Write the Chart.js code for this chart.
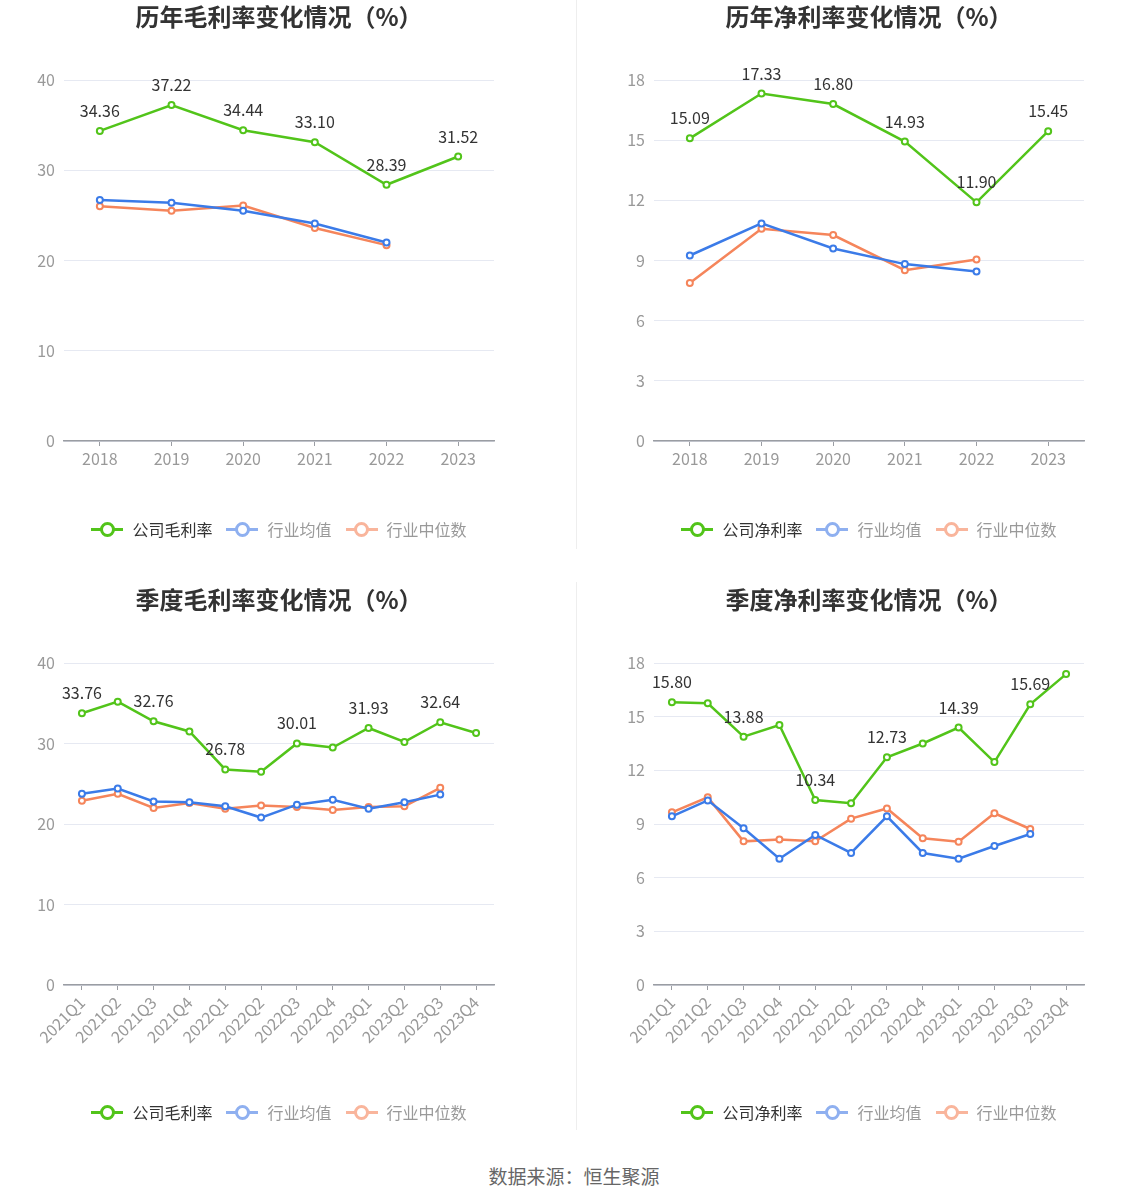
<!DOCTYPE html>
<html><head><meta charset="utf-8">
<script src="https://cdn.jsdelivr.net/npm/chart.js@4.4.0/dist/chart.umd.min.js"></script>
<style>
body{margin:0;background:#fff;width:1148px;height:1202px;position:relative;overflow:hidden;font-family:"Noto Sans CJK SC","Noto Sans",sans-serif;}
canvas{position:absolute;}
.title{position:absolute;width:574px;text-align:center;font-size:24px;line-height:30px;font-weight:bold;color:#333;}
.legend{position:absolute;width:574px;height:22px;display:flex;justify-content:center;align-items:center;font-size:16px;line-height:22px;}
.item{display:flex;align-items:center;margin:0 7px;}
.icon{position:relative;width:32px;height:16px;margin-right:9px;}
.icon .ln{position:absolute;left:0;right:0;top:6.5px;height:3px;}
.icon .dot{position:absolute;left:8.5px;top:0.5px;width:9px;height:9px;border:3px solid;border-radius:50%;background:#fff;box-sizing:content-box;}
.divider{position:absolute;left:576px;width:1px;background:#eee;}
.footer{position:absolute;left:0;width:1148px;top:1163px;text-align:center;font-size:19px;line-height:26px;color:#666;}
</style></head>
<body>
<div class="divider" style="top:0;height:549px"></div>
<div class="divider" style="top:582px;height:548px"></div>
<canvas id="c1" width="574" height="549" style="left:0;top:0;width:574px;height:549px"></canvas>
<canvas id="c2" width="574" height="549" style="left:574px;top:0;width:574px;height:549px"></canvas>
<canvas id="c3" width="574" height="556" style="left:0;top:574px;width:574px;height:556px"></canvas>
<canvas id="c4" width="574" height="556" style="left:574px;top:574px;width:574px;height:556px"></canvas>
<div class="title" style="left:-8px;top:1px">历年毛利率变化情况（%）</div>
<div class="title" style="left:582px;top:1px">历年净利率变化情况（%）</div>
<div class="title" style="left:-8px;top:584px">季度毛利率变化情况（%）</div>
<div class="title" style="left:582px;top:584px">季度净利率变化情况（%）</div>
<div id="lg1" class="legend" style="left:-8px;top:518px"></div>
<div id="lg2" class="legend" style="left:582px;top:518px"></div>
<div id="lg3" class="legend" style="left:-8px;top:1101px"></div>
<div id="lg4" class="legend" style="left:582px;top:1101px"></div>
<div class="footer">数据来源：恒生聚源</div>
<script>
const yearCats = ['2018','2019','2020','2021','2022','2023'];
const quarterCats = ['2021Q1','2021Q2','2021Q3','2021Q4','2022Q1','2022Q2','2022Q3','2022Q4','2023Q1','2023Q2','2023Q3','2023Q4'];

const annualGrossCompany = [34.36,37.22,34.44,33.10,28.39,31.52];
const annualGrossMean    = [26.7,26.4,25.5,24.1,22.0,null];
const annualGrossMedian  = [26.0,25.5,26.1,23.6,21.7,null];

const annualNetCompany = [15.09,17.33,16.80,14.93,11.90,15.45];
const annualNetMean    = [9.25,10.85,9.6,8.82,8.45,null];
const annualNetMedian  = [7.88,10.58,10.27,8.52,9.05,null];

const qGrossCompany = [33.76,35.2,32.76,31.5,26.78,26.5,30.01,29.5,31.93,30.2,32.64,31.3];
const qGrossMean    = [23.75,24.4,22.8,22.7,22.2,20.8,22.4,23.0,21.9,22.7,23.65,null];
const qGrossMedian  = [22.9,23.75,22.0,22.6,21.9,22.3,22.1,21.75,22.1,22.2,24.5,null];

const qNetCompany = [15.80,15.75,13.88,14.53,10.34,10.16,12.73,13.5,14.39,12.46,15.69,17.38];
const qNetMean    = [9.43,10.32,8.76,7.06,8.39,7.38,9.43,7.38,7.06,7.77,8.44,null];
const qNetMedian  = [9.65,10.49,8.03,8.14,8.03,9.3,9.87,8.2,8.01,9.6,8.72,null];

const annualLabelIdx = [0,1,2,3,4,5];
const quarterLabelIdx = [0,2,4,6,8,10];

const grossTicksMax = 40, grossStep = 10;
const netTicksMax = 18, netStep = 3;

const seriesNamesGross = ['公司毛利率','行业均值','行业中位数'];
const seriesNamesNet = ['公司净利率','行业均值','行业中位数'];

const GREEN='#52c41a', BLUE='#3b7be8', ORANGE='#f5855b';
const FONT='"Noto Sans CJK SC","Noto Sans",sans-serif';

const valueLabels = {
  id:'valueLabels',
  afterDatasetsDraw(chart, args, opts){
    const meta = chart.getDatasetMeta(0);
    const ds = chart.data.datasets[0];
    const ctx = chart.ctx;
    ctx.save();
    ctx.font = '16px ' + FONT;
    ctx.fillStyle = '#333';
    ctx.textAlign='center'; ctx.textBaseline='middle';
    (opts.indices||[]).forEach(i => {
      const p = meta.data[i];
      if (p && ds.data[i]!=null) ctx.fillText(ds.data[i].toFixed(2), p.x, p.y - 20);
    });
    ctx.restore();
  }
};

function ds(label, data, color, w){
  return {label, data, borderColor:color, backgroundColor:'#fff', borderWidth:w,
    pointRadius:3, pointBorderWidth:2, pointBackgroundColor:'#fff', pointBorderColor:color,
    tension:0, spanGaps:false};
}

function makeChart(id, cats, names, company, mean, median, yMax, yStep, labelIdx, rotated, yW, pad, xH){
  new Chart(document.getElementById(id), {
    type:'line',
    data:{labels:cats, datasets:[ds(names[0],company,GREEN,2.5), ds(names[1],mean,BLUE,2.5), ds(names[2],median,ORANGE,2.5)]},
    options:{
      responsive:false, animation:false, devicePixelRatio:1,
      layout:{padding:pad},
      plugins:{legend:{display:false}, tooltip:{enabled:false}, valueLabels:{indices:labelIdx}},
      scales:{
        x:{type:'category', offset:true,
          grid:{display:true, drawOnChartArea:false, drawTicks:true, tickLength:5, offset:false, color:'#9a9da3', lineWidth:1},
          border:{display:true, color:'#9a9da3', width:1.5},
          ticks:{color:'#999', font:{size:16, family:FONT}, padding:3, autoSkip:false,
            maxRotation: rotated?45:0, minRotation: rotated?45:0},
          afterFit(s){ s.height = xH; }
        },
        y:{min:0, max:yMax,
          ticks:{stepSize:yStep, color:'#999', font:{size:16, family:FONT}, padding:9},
          grid:{color:'#e6e9f2', drawTicks:false, lineWidth:1},
          border:{display:false},
          afterFit(s){ s.width = yW; }
        }
      }
    },
    plugins:[valueLabels]
  });
}

makeChart('c1', yearCats, seriesNamesGross, annualGrossCompany, annualGrossMean, annualGrossMedian,
  grossTicksMax, grossStep, annualLabelIdx, false, 64, {top:80,right:80,bottom:68,left:0}, 40);
makeChart('c2', yearCats, seriesNamesNet, annualNetCompany, annualNetMean, annualNetMedian,
  netTicksMax, netStep, annualLabelIdx, false, 80, {top:80,right:64,bottom:68,left:0}, 40);
makeChart('c3', quarterCats, seriesNamesGross, qGrossCompany, qGrossMean, qGrossMedian,
  grossTicksMax, grossStep, quarterLabelIdx, true, 64, {top:89,right:80,bottom:75,left:0}, 70);
makeChart('c4', quarterCats, seriesNamesNet, qNetCompany, qNetMean, qNetMedian,
  netTicksMax, netStep, quarterLabelIdx, true, 80, {top:89,right:64,bottom:75,left:0}, 70);

function legend(id, names){
  const conf = [[GREEN,'#333',names[0]],['#8fb0f0','#999',names[1]],['#f9b59c','#999',names[2]]];
  const el = document.getElementById(id);
  conf.forEach(([c,tc,n])=>{
    const it = document.createElement('div'); it.className='item';
    it.innerHTML = '<div class="icon"><div class="ln" style="background:'+c+'"></div><div class="dot" style="border-color:'+c+'"></div></div><span style="color:'+tc+'">'+n+'</span>';
    el.appendChild(it);
  });
}
legend('lg1', seriesNamesGross);
legend('lg2', seriesNamesNet);
legend('lg3', seriesNamesGross);
legend('lg4', seriesNamesNet);
</script>
</body></html>
